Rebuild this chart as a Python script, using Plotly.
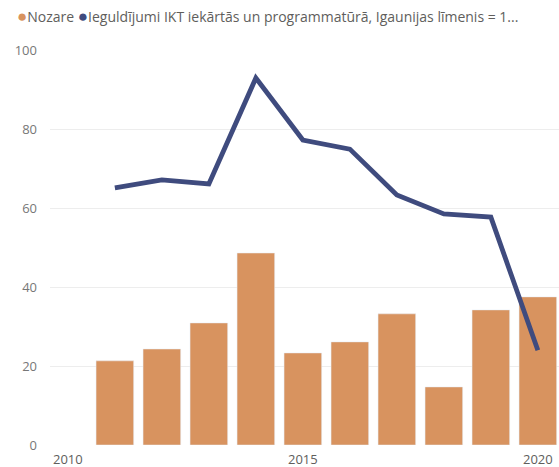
import plotly.graph_objects as go

years = [2011, 2012, 2013, 2014, 2015, 2016, 2017, 2018, 2019, 2020]
nozare = [21.3, 24.3, 30.9, 48.6, 23.3, 26.1, 33.2, 14.7, 34.2, 37.5]
ieguldijumi = [65.1, 67.1, 66.1, 92.9, 77.2, 74.9, 63.3, 58.5, 57.7, 24.0]
name_bar = "Nozare"
name_line = "Ieguldījumi IKT iekārtās un programmatūrā, Igaunijas līmenis = 1..."
x_ticks = [2010, 2015, 2020]
y_ticks = [0, 20, 40, 60, 80, 100]

c_bar = "#D8935F"
c_line = "#3F4B7E"

fig = go.Figure()
fig.add_trace(go.Bar(x=years, y=nozare, name=name_bar, marker_color=c_bar,
                     width=0.8, showlegend=False))
fig.add_trace(go.Scatter(x=years, y=ieguldijumi, name=name_line, mode="lines",
                         line=dict(color=c_line, width=4.8), showlegend=False))

font = "Segoe UI, Open Sans, sans-serif"
fig.add_annotation(
    xref="paper", yref="paper", x=-0.068, y=1.088, xanchor="left", yanchor="middle",
    showarrow=False,
    text=(f"<span style='color:{c_bar};font-size:17px'>●</span>{name_bar} "
          f"<span style='color:{c_line};font-size:17px'>●</span>{name_line}"),
    font=dict(family=font, size=14, color="#605E5C"),
)

fig.update_layout(
    width=559, height=467,
    margin=dict(l=50, r=0, t=50, b=22),
    paper_bgcolor="white", plot_bgcolor="white",
    font=dict(family=font, size=13, color="#777777"),
    xaxis=dict(range=[2009.62, 2020.45], tickvals=x_ticks, ticktext=[str(t) for t in x_ticks],
               showgrid=False, zeroline=False, showline=False, ticks="",
               tickfont=dict(size=13, color="#605E5C"), ticklabelstandoff=5),
    yaxis=dict(range=[0, 100], tickvals=y_ticks, showgrid=True, gridcolor="#EDEDED",
               gridwidth=1, zeroline=False, showline=False, ticks="",
               tickfont=dict(size=13, color="#777777"), ticklabelstandoff=12),
)

fig.write_html("out.html", config={"displayModeBar": False},
               post_script="document.body.style.margin='0';")
